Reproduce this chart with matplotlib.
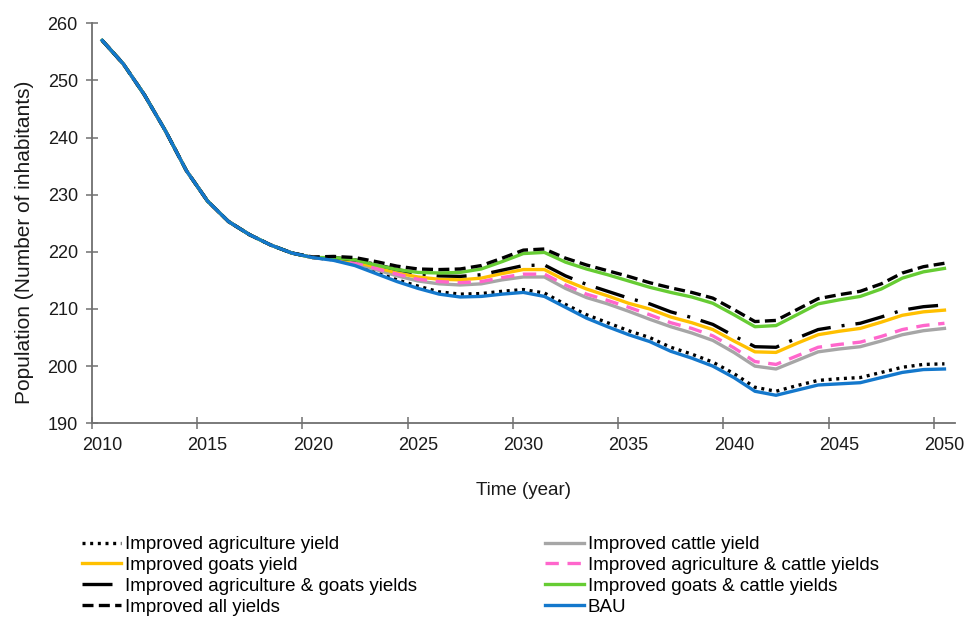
import matplotlib.pyplot as plt

plt.rcParams["font.family"] = ["Liberation Sans", "DejaVu Sans"]

# one value per year, 2010 ... 2050
years = list(range(2010, 2051))

common = [257.0, 252.9, 247.5, 241.2, 234.2, 228.9, 225.3, 223.0, 221.2, 219.8]

bau = common + [
    219.0, 218.5, 217.6, 216.2, 214.8, 213.6, 212.6, 212.1, 212.2, 212.6,
    212.9, 212.2, 210.3, 208.4, 206.9, 205.5, 204.3, 202.6, 201.4, 200.0,
    198.0, 195.6, 194.9, 195.8, 196.7, 196.9, 197.1, 198.0, 198.9, 199.4,
    199.5,
]
agri = common + [
    219.0, 218.6, 217.8, 216.5, 215.1, 214.0, 213.0, 212.6, 212.7, 213.1,
    213.4, 212.8, 210.8, 209.0, 207.6, 206.2, 205.0, 203.3, 202.1, 200.7,
    198.7, 196.3, 195.6, 196.6, 197.5, 197.8, 198.0, 198.9, 199.8, 200.3,
    200.4,
]
cattle = common + [
    219.0, 218.7, 218.0, 216.9, 215.8, 214.9, 214.4, 214.2, 214.4, 215.1,
    215.6, 215.6, 213.6, 212.0, 210.9, 209.6, 208.2, 206.9, 205.8, 204.5,
    202.4, 200.0, 199.5, 201.0, 202.5, 203.0, 203.4, 204.4, 205.5, 206.2,
    206.6,
]
agri_cattle = common + [
    219.0, 218.8, 218.2, 217.1, 216.1, 215.2, 214.8, 214.6, 214.8, 215.5,
    216.1, 216.1, 214.2, 212.6, 211.5, 210.3, 209.0, 207.6, 206.6, 205.3,
    203.2, 200.8, 200.3, 201.8, 203.3, 203.8, 204.2, 205.2, 206.4, 207.1,
    207.5,
]
goats = common + [
    219.0, 218.9, 218.3, 217.3, 216.3, 215.6, 215.2, 215.1, 215.4, 216.2,
    216.9, 216.9, 215.0, 213.5, 212.3, 211.0, 210.0, 208.6, 207.6, 206.4,
    204.4, 202.5, 202.4, 204.0, 205.5, 206.1, 206.6, 207.7, 208.9, 209.5,
    209.8,
]
agri_goats = common + [
    219.0, 219.0, 218.6, 217.8, 216.9, 216.2, 215.8, 215.7, 216.0, 216.8,
    217.6, 217.7, 215.8, 214.3, 213.1, 211.9, 210.9, 209.5, 208.5, 207.3,
    205.3, 203.4, 203.3, 204.9, 206.4, 207.0, 207.5, 208.6, 209.8, 210.4,
    210.7,
]
goats_cattle = common + [
    219.0, 219.0, 218.6, 217.7, 216.9, 216.4, 216.3, 216.4, 217.0, 218.3,
    219.7, 219.9, 218.2, 217.0, 216.0, 214.9, 213.8, 212.9, 212.1, 211.0,
    209.0, 206.9, 207.1, 209.0, 210.9, 211.6, 212.2, 213.5, 215.4, 216.5,
    217.1,
]
all_yields = common + [
    219.1, 219.2, 219.0, 218.3, 217.5, 217.0, 216.9, 217.0, 217.6, 218.9,
    220.3, 220.5, 218.9, 217.7, 216.7, 215.7, 214.6, 213.7, 212.9, 211.9,
    209.9, 207.8, 208.0, 209.9, 211.8, 212.5, 213.1, 214.4, 216.3, 217.4,
    218.0,
]

x_labels = [2010, 2015, 2020, 2025, 2030, 2035, 2040, 2045, 2050]
y_ticks = [190, 200, 210, 220, 230, 240, 250, 260]


def main() -> None:
    fig = plt.figure(figsize=(9.66, 6.19), dpi=100)
    ax = fig.add_axes([0.0949, 0.3162, 0.8937, 0.6462])

    lw = 2.4
    series = [
        ("Improved agriculture yield", agri, "black", (0, (0.9, 1.4))),
        ("Improved cattle yield", cattle, "#a6a6a6", "-"),
        ("Improved goats yield", goats, "#ffc000", "-"),
        ("Improved agriculture & cattle yields", agri_cattle, "#ff66cc", (0, (4, 2.6))),
        ("Improved agriculture & goats yields", agri_goats, "black", (0, (9, 3.3, 0.9, 3.3))),
        ("Improved goats & cattle yields", goats_cattle, "#66cc33", "-"),
        ("Improved all yields", all_yields, "black", (0, (3.3, 1.6))),
        ("BAU", bau, "#1478cc", "-"),
    ]
    handles = {}
    for label, values, color, style in series:
        (line,) = ax.plot(years, values, color=color, linestyle=style,
                          linewidth=lw, label=label)
        handles[label] = line

    # category-style axis: tick marks between years, labels on the years
    ax.set_xlim(years[0] - 0.5, years[-1] + 0.5)
    ax.set_ylim(190, 260)
    ax.set_xticks([y - 0.5 for y in x_labels])
    ax.set_xticklabels([])
    ax.set_xticks(x_labels, minor=True)
    ax.set_xticklabels([str(y) for y in x_labels], minor=True)
    ax.set_yticks(y_ticks)
    for side in ("top", "right"):
        ax.spines[side].set_visible(False)
    for side in ("left", "bottom"):
        ax.spines[side].set_color("#707070")
        ax.spines[side].set_linewidth(1.3)
    ax.tick_params(which="major", direction="inout", length=8, width=1.1,
                   color="#707070", labelsize=13, labelcolor="#1a1a1a", pad=6)
    ax.tick_params(axis="x", which="minor", length=0, labelsize=13,
                   labelcolor="#1a1a1a", pad=10)
    ax.set_xlabel("Time (year)", fontsize=13.5, color="#1a1a1a", labelpad=20)
    ax.set_ylabel("Population (Number of inhabitants)", fontsize=15,
                  color="#1a1a1a")
    ax.yaxis.set_label_coords(-0.067, 0.453)

    order = [
        "Improved agriculture yield",
        "Improved goats yield",
        "Improved agriculture & goats yields",
        "Improved all yields",
        "Improved cattle yield",
        "Improved agriculture & cattle yields",
        "Improved goats & cattle yields",
        "BAU",
    ]
    fig.legend([handles[k] for k in order], order, ncol=2, loc="upper left",
               bbox_to_anchor=(0.085, 0.134), frameon=False, fontsize=13.5,
               handlelength=2.1, handletextpad=0.2, labelspacing=0.2,
               columnspacing=6.8, borderpad=0, borderaxespad=0)

    fig.savefig("out.png", dpi=100)
    plt.close(fig)


if __name__ == "__main__":
    main()
